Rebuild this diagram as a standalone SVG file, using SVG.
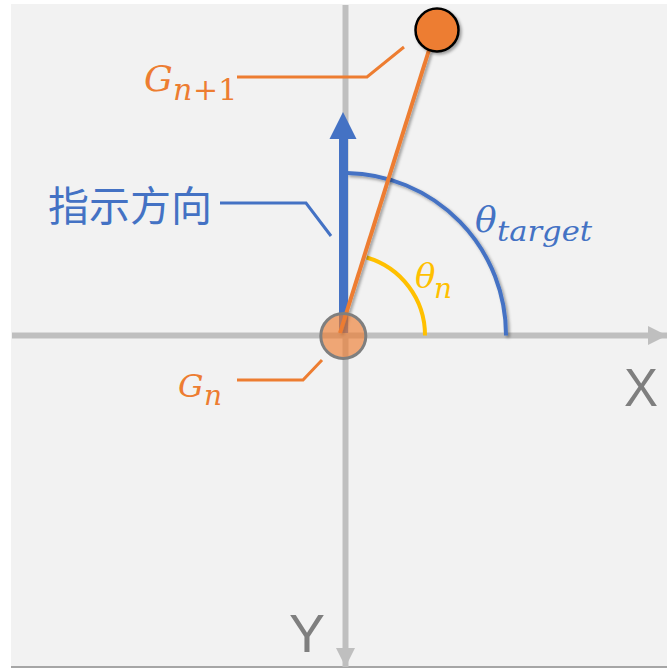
<svg xmlns="http://www.w3.org/2000/svg" width="667" height="668" viewBox="0 0 667 668">
<defs>
<style>
.axis{stroke:#bfbfbf;stroke-width:6;fill:none}
.lead-o{stroke:#ed7d31;stroke-width:3;fill:none}
.lead-b{stroke:#4472c4;stroke-width:3;fill:none}
.math{font-family:"DejaVu Serif","Liberation Serif",serif;font-style:italic}
.up{font-style:normal}
.axlbl{font-family:"Liberation Sans",Arial,sans-serif;fill:#7f7f7f;font-size:54px}
</style>
<filter id="sh" x="-20%" y="-20%" width="140%" height="140%">
<feDropShadow dx="2" dy="2" stdDeviation="1.5" flood-color="#000" flood-opacity="0.35"/>
</filter>
<marker id="axhead" viewBox="0 0 10 10" refX="10" refY="5" markerWidth="3.2" markerHeight="3.2" markerUnits="strokeWidth" orient="auto">
<path d="M0,0 L10,5 L0,10 Z" fill="#bfbfbf"/>
</marker>
</defs>
<rect x="11" y="6" width="660" height="662" fill="#a6a6a6"/>
<rect x="11" y="4" width="660" height="662" fill="#f2f2f2"/>

<g id="connectors">
<line class="axis" x1="12" y1="335.5" x2="667" y2="335.5" stroke-width="5" marker-end="url(#axhead)"/>
<line class="axis" x1="345.5" y1="5" x2="345.5" y2="667" marker-end="url(#axhead)"/>
<path d="M347,173 A162,162 0 0 1 506,335.5" fill="none" stroke="#4472c4" stroke-width="4" filter="url(#sh)"/>
<path d="M366.7,257.5 A81,81 0 0 1 425,335.5" fill="none" stroke="#ffc000" stroke-width="4"/>
<line x1="343.5" y1="333" x2="343.5" y2="136" stroke="#4472c4" stroke-width="9"/>
<path d="M343,112 L356.5,139 L329.5,139 Z" fill="#4472c4"/>
<line x1="340" y1="333" x2="429" y2="50" stroke="#ed7d31" stroke-width="4" filter="url(#sh)"/>
<polyline class="lead-o" points="237,77 367,77 404,47"/>
<polyline class="lead-b" points="220,203 306,203 331,236"/>
<polyline class="lead-o" points="237,380 303,380 322,360"/>
</g>

<g id="node-gn1">
<circle cx="437" cy="30" r="21.5" fill="#ed7d31" stroke="#000" stroke-width="2.5" filter="url(#sh)"/>
</g>
<g id="node-gn">
<circle cx="343.3" cy="336" r="22.5" fill="#ed7d31" fill-opacity="0.65" stroke="#7f7f7f" stroke-width="3"/>
</g>

<g id="label-gn1" fill="#ed7d31">
<text class="math" x="144" y="91" font-size="36">G<tspan x="173" y="100" font-size="30">n</tspan><tspan class="up" x="193" y="100" font-size="30">+1</tspan></text>
</g>
<g id="label-direction">
<text x="48" y="221" font-family="'Noto Sans CJK SC','Noto Sans CJK JP',sans-serif" font-size="41" fill="#4472c4">指示方向</text>
</g>
<g id="label-gn" fill="#ed7d31">
<text class="math" x="178" y="397" font-size="32">G<tspan x="204" y="405" font-size="28">n</tspan></text>
</g>
<g id="label-theta-target" fill="#4472c4">
<text class="math" x="475" y="232" font-size="36">θ<tspan x="497" y="241" font-size="27" textLength="95" lengthAdjust="spacingAndGlyphs">target</tspan></text>
</g>
<g id="label-theta-n" fill="#ffc000">
<text class="math" x="415" y="288" font-size="34">θ<tspan x="434" y="298" font-size="28">n</tspan></text>
</g>
<g id="axis-labels">
<text class="axlbl" x="624" y="406" textLength="34" lengthAdjust="spacingAndGlyphs">X</text>
<text class="axlbl" x="289" y="652" textLength="36" lengthAdjust="spacingAndGlyphs">Y</text>
</g>
</svg>
